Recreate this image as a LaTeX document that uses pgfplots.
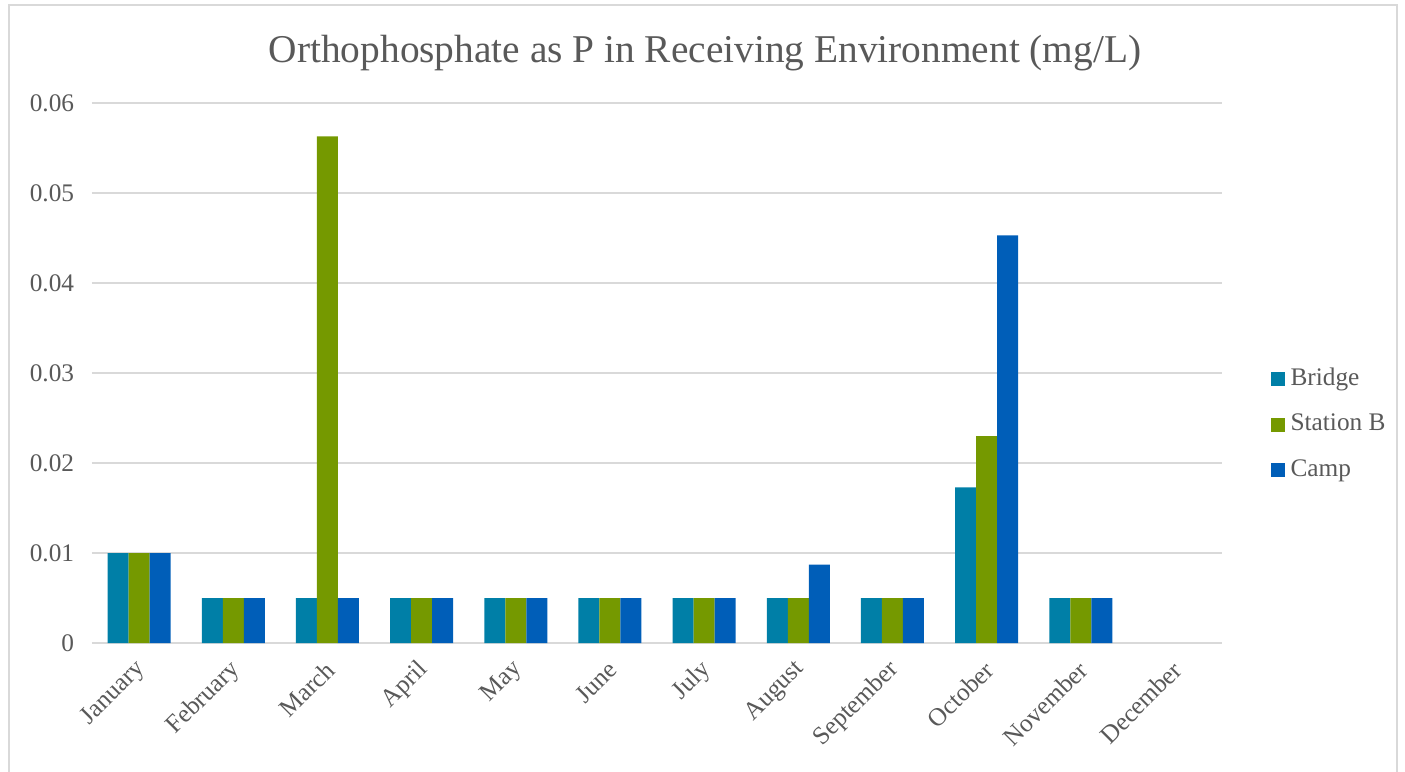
\documentclass[border=0pt]{standalone}
\usepackage{fontspec}
\setmainfont{Liberation Serif}
\usepackage{pgfplots}
\pgfplotsset{compat=1.18}
\definecolor{bridge}{RGB}{0,127,167}
\definecolor{stationb}{RGB}{117,153,0}
\definecolor{camp}{RGB}{0,94,184}
\definecolor{txt}{RGB}{89,89,89}
\definecolor{gridc}{RGB}{217,217,217}

\begin{document}
\begin{tikzpicture}
% 1 px of the reference = 0.125 mm
\useasboundingbox (-11.5mm,-16mm) rectangle (164.125mm,80.375mm);
\draw[gridc, line width=0.2mm] (-10.375mm,-20mm) rectangle (163.125mm,79.75mm);
\begin{axis}[
  at={(0,0)}, anchor=south west,
  scale only axis,
  width=141.25mm, height=67.5mm,
  ymin=0, ymax=0.06,
  xmin=-0.5, xmax=11.5,
  ytick={0,0.01,0.02,0.03,0.04,0.05,0.06},
  yticklabels={0,0.01,0.02,0.03,0.04,0.05,0.06},
  scaled y ticks=false,
  xtick={0,...,11},
  xticklabels={January,February,March,April,May,June,July,August,September,October,November,December},
  /pgf/number format/assume math mode=true,
  ticklabel style={font=\fontsize{9}{11}\selectfont, text=txt},
  xticklabel style={rotate=45, anchor=east, yshift=-1.2mm, xshift=0.5mm},
  yticklabel style={xshift=-1mm},
  axis line style={draw=none},
  tick style={draw=none},
  ymajorgrids,
  grid style={gridc, line width=0.25mm},
  ybar=0pt, bar width=2.625mm,
  legend cell align=left,
  legend style={at={(rel axis cs:1.035,0.405)}, anchor=west, draw=none, fill=none,
    font=\fontsize{9}{11}\selectfont, text=txt, row sep=1.6mm,
    /tikz/every even column/.append style={column sep=0.5mm}},
  legend image code/.code={\fill[#1] (0mm,-0.9mm) rectangle (1.8mm,0.9mm);},
]
\addplot[fill=bridge, draw=none] coordinates {
  (0,0.01) (1,0.005) (2,0.005) (3,0.005) (4,0.005) (5,0.005)
  (6,0.005) (7,0.005) (8,0.005) (9,0.0173) (10,0.005)
};
\addlegendentry{Bridge}
\addplot[fill=stationb, draw=none] coordinates {
  (0,0.01) (1,0.005) (2,0.0563) (3,0.005) (4,0.005) (5,0.005)
  (6,0.005) (7,0.005) (8,0.005) (9,0.023) (10,0.005)
};
\addlegendentry{Station B}
\addplot[fill=camp, draw=none] coordinates {
  (0,0.01) (1,0.005) (2,0.005) (3,0.005) (4,0.005) (5,0.005)
  (6,0.005) (7,0.0087) (8,0.005) (9,0.0453) (10,0.005)
};
\addlegendentry{Camp}
\end{axis}
\node[font=\fontsize{14}{17}\selectfont, text=txt] at (76.625mm,73.8mm)
  {Orthophosphate as P in Receiving Environment (mg/L)};
\end{tikzpicture}
\end{document}
